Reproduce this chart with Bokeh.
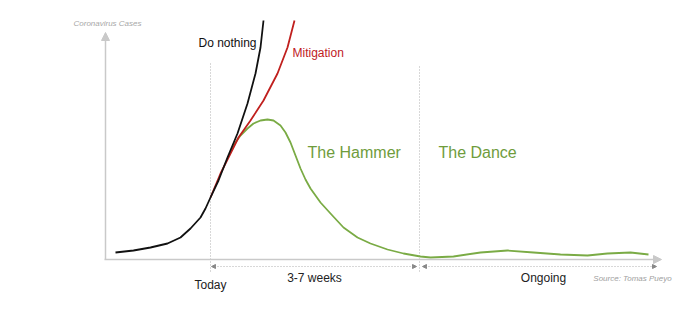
from bokeh.plotting import figure
from bokeh.models import Range1d, Arrow, NormalHead
from bokeh.core.properties import value
from bokeh.embed import file_html
from bokeh.resources import INLINE

# ---- data (x = time units, y = cases above baseline) ----
do_nothing_x = [115, 133, 150, 167, 180, 190, 200, 205, 210, 218, 227, 237, 247, 255, 260, 263]
do_nothing_y = [7, 9, 12, 16, 22, 31, 42, 51, 62, 79, 102, 126, 156, 186, 212, 239]

mitigation_x = [210, 220, 230, 238, 250, 263, 277, 287, 294]
mitigation_y = [62, 86, 106, 122, 139, 159, 186, 212, 239]

hammer_dance_x = [231, 235, 240, 247, 253, 260, 267, 273, 280, 285, 290, 295, 300, 305, 310,
                  315, 320, 330, 343, 357, 370, 387, 403, 420, 430, 453, 480, 507, 533,
                  560, 587, 607, 630, 648]
hammer_dance_y = [109, 117, 124, 131, 136, 139, 140, 139, 134, 127, 117, 104, 91, 80, 71,
                  64, 57, 46, 32, 22, 16, 10, 6, 3, 2, 3, 7, 9, 7,
                  5, 4, 6, 7, 5]

today_x = 210
dance_start_x = 419

curve_labels = ["Do nothing", "Mitigation"]
phase_labels = ["The Hammer", "The Dance"]
time_labels = ["Today", "3-7 weeks", "Ongoing"]
axis_title = "Coronavirus Cases"
source_text = "Source: Tomas Pueyo"

BLACK = "#111111"
RED = "#c0201e"
GREEN = "#7aab45"
AXIS = "#c9c9c9"
DOT = "#b0b0b0"
FONT = "Liberation Sans"

p = figure(width=686, height=320, output_backend="svg", toolbar_location=None,
           x_range=Range1d(0, 686), y_range=Range1d(-61, 259),
           min_border=0, min_border_left=0, min_border_right=0,
           min_border_top=0, min_border_bottom=0)
p.xaxis.visible = False
p.yaxis.visible = False
p.grid.visible = False
p.outline_line_color = None
p.background_fill_color = "white"
p.border_fill_color = "white"

# axes with arrowheads
p.add_layout(Arrow(end=NormalHead(size=8, fill_color=AXIS, line_color=AXIS),
                   x_start=105, y_start=0, x_end=105, y_end=227,
                   line_color=AXIS, line_width=1.5))
p.add_layout(Arrow(end=NormalHead(size=8, fill_color=AXIS, line_color=AXIS),
                   x_start=104, y_start=0, x_end=661, y_end=0,
                   line_color=AXIS, line_width=1.5))

# dotted vertical markers
p.segment(x0=[today_x, dance_start_x], y0=[-12, -12], x1=[today_x, dance_start_x], y1=[196, 194],
          line_color=DOT, line_width=1, line_dash="1 2")

# dotted duration arrows
for xs, xe in [(211, 416), (422, 656)]:
    p.add_layout(Arrow(start=NormalHead(size=4, fill_color="#888888", line_color="#888888"),
                       end=NormalHead(size=4, fill_color="#888888", line_color="#888888"),
                       x_start=xs, y_start=-7, x_end=xe, y_end=-7,
                       line_color=DOT, line_width=1, line_dash="1 2"))

# curves
p.line(hammer_dance_x, hammer_dance_y, line_color=GREEN, line_width=1.8, line_join="round")
p.line(mitigation_x, mitigation_y, line_color=RED, line_width=1.8, line_join="round")
p.line(do_nothing_x, do_nothing_y, line_color=BLACK, line_width=1.8, line_join="round")

# labels
p.text(x=[198], y=[217], text=[curve_labels[0]], text_color=BLACK, text_font=value(FONT),
       text_font_size="12px", text_baseline="middle", text_align="left")
p.text(x=[292], y=[207], text=[curve_labels[1]], text_color=RED, text_font=value(FONT),
       text_font_size="12px", text_baseline="middle", text_align="left")
p.text(x=[307, 438], y=[107, 107], text=phase_labels, text_color="#6f9c3c", text_font=value(FONT),
       text_font_size="16px", text_baseline="middle", text_align="left")
p.text(x=[210, 314, 543], y=[-25, -18, -18], text=time_labels, text_color="#222222",
       text_font=value(FONT), text_font_size="12px", text_baseline="middle", text_align="center")
p.text(x=[107], y=[236], text=[axis_title], text_color="#a8a8a8", text_font=value(FONT),
       text_font_size="8px", text_font_style="italic", text_baseline="middle", text_align="center")
p.text(x=[632], y=[-19], text=[source_text], text_color="#a0a0a0", text_font=value(FONT),
       text_font_size="8px", text_font_style="italic", text_baseline="middle", text_align="center")

open("out.html", "w").write(file_html(p, INLINE))
